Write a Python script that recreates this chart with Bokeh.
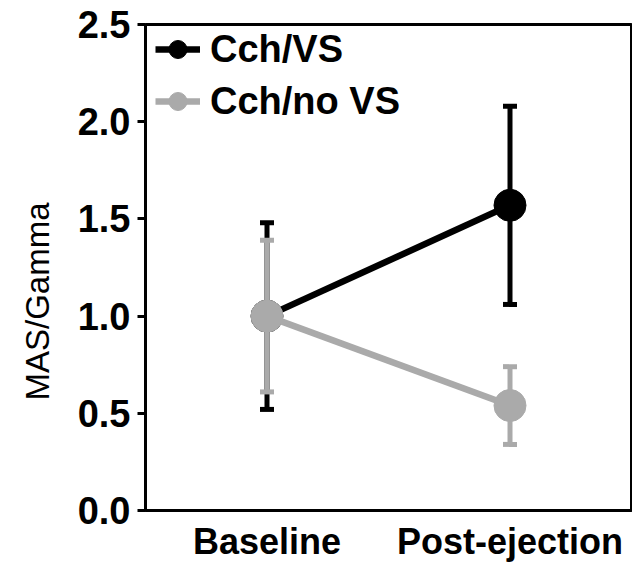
from bokeh.plotting import figure
from bokeh.models import (Range1d, FixedTicker, PrintfTickFormatter, Legend, LegendItem,
                          ColumnDataSource, Title)
from bokeh.embed import file_html
from bokeh.resources import INLINE

categories = ["Baseline", "Post-ejection"]
vs_mean = [1.0, 1.57]
vs_err = [0.48, 0.51]
novs_mean = [1.0, 0.54]
novs_err = [0.39, 0.20]
y_ticks = [0.0, 0.5, 1.0, 1.5, 2.0, 2.5]
series_labels = ["Cch/VS", "Cch/no VS"]
y_title = "MAS/Gamma"

BLACK = "#000000"
GRAY = "#aaaaaa"
FONT = "Liberation Sans"

FRAME_W = 486
FRAME_H = 486
BORDER_L = 145
BORDER_T = 24
BORDER_B = 46
p = figure(x_range=categories, y_range=Range1d(0, 2.5),
           frame_width=FRAME_W, frame_height=FRAME_H,
           min_border_left=BORDER_L, min_border_right=1, min_border_top=BORDER_T,
           min_border_bottom=BORDER_B,
           output_backend="svg", toolbar_location=None)
p.x_range.range_padding = 0
p.xgrid.visible = False
p.ygrid.visible = False
p.outline_line_color = BLACK
p.outline_line_width = 3
p.background_fill_color = "white"
p.border_fill_color = "white"

items = []
for mean, err, color, label in [(vs_mean, vs_err, BLACK, series_labels[0]),
                                (novs_mean, novs_err, GRAY, series_labels[1])]:
    src = ColumnDataSource(dict(x=categories, y=mean,
                                lo=[m - e for m, e in zip(mean, err)],
                                hi=[m + e for m, e in zip(mean, err)]))
    lr = p.line("x", "y", source=src, line_color=color, line_width=6.5)
    p.segment(x0="x", y0="lo", x1="x", y1="hi", source=src, line_color=color, line_width=5)
    p.scatter("x", "hi", source=src, marker="dash", size=14, line_color=color, line_width=5)
    p.scatter("x", "lo", source=src, marker="dash", size=14, line_color=color, line_width=5)
    cr = p.scatter("x", "y", source=src, marker="circle", size=32, fill_color=color, line_color=color)
    items.append(LegendItem(label=label, renderers=[lr, cr]))

legend = Legend(items=items, location=(10, FRAME_H - 98 - 2))
legend.background_fill_alpha = 0
legend.border_line_alpha = 0
legend.label_text_font = FONT
legend.label_text_font_size = "38px"
legend.label_text_font_style = "bold"
legend.label_text_color = BLACK
legend.glyph_width = 45
legend.glyph_height = 46
legend.label_height = 46
legend.spacing = 6
legend.padding = 0
legend.margin = 0
legend.label_standoff = 10
p.add_layout(legend)

# y-axis title as a left-side title: sits lower than the frame centre and near the left edge
p.add_layout(Title(text=y_title, align="left", offset=110, standoff=33, vertical_align="top",
                   text_font=FONT, text_font_size="33px", text_font_style="normal",
                   text_color=BLACK), "left")

p.yaxis.ticker = FixedTicker(ticks=y_ticks)
p.yaxis.formatter = PrintfTickFormatter(format="%.1f")
p.yaxis.minor_tick_line_color = None
p.yaxis.major_tick_out = 8
p.yaxis.major_tick_in = 0
p.yaxis.major_tick_line_width = 3
p.yaxis.axis_line_width = 3
p.yaxis.major_label_standoff = 7
p.yaxis.major_label_text_font_size = "38px"

p.xaxis.major_tick_line_color = None
p.xaxis.minor_tick_line_color = None
p.xaxis.axis_line_width = 3
p.xaxis.major_label_standoff = 4
p.xaxis.major_label_text_font_size = "36px"

for ax in (p.xaxis, p.yaxis):
    ax.major_label_text_font = FONT
    ax.major_label_text_font_style = "bold"
    ax.major_label_text_color = BLACK
    ax.axis_line_color = BLACK

open("out.html", "w").write(file_html(p, INLINE))
